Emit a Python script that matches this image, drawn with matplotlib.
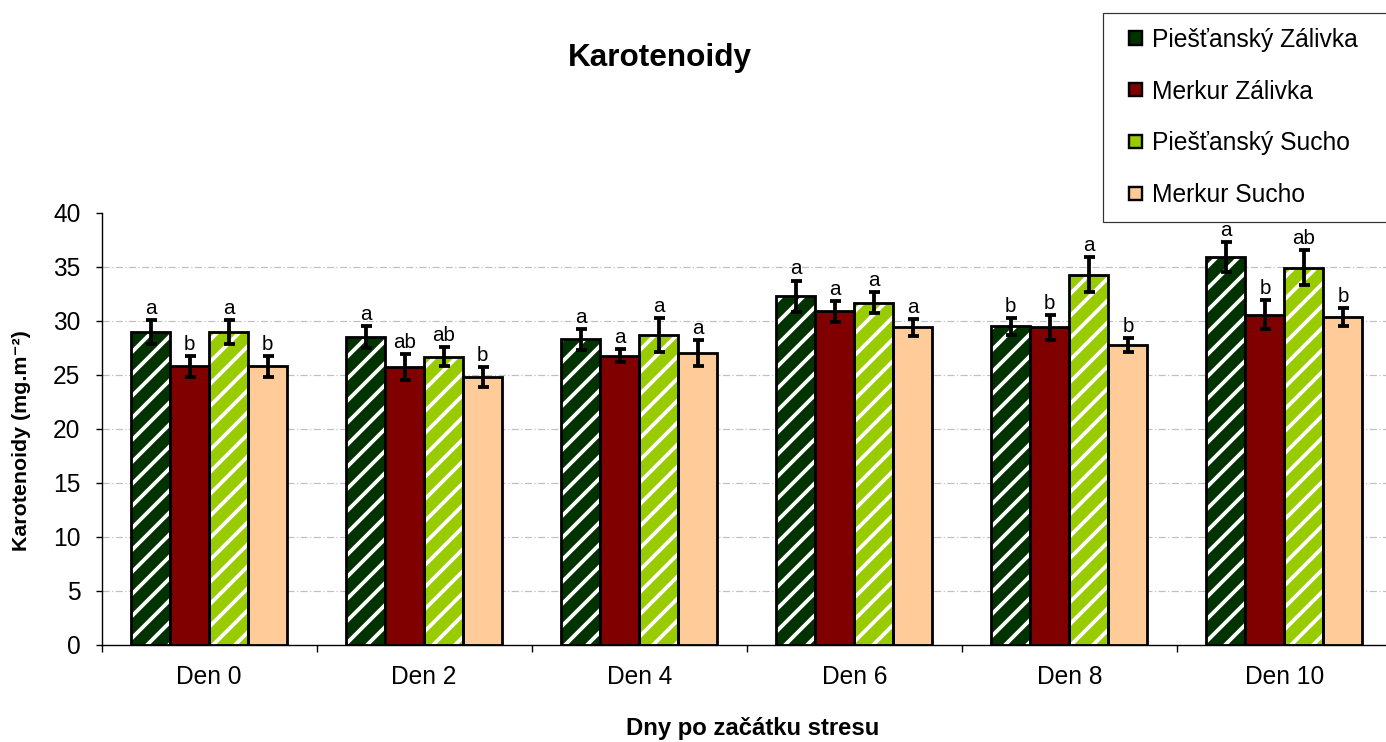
import matplotlib
matplotlib.use("Agg")
import matplotlib.pyplot as plt
import numpy as np
from matplotlib.patches import Patch, Rectangle
from matplotlib.legend_handler import HandlerPatch

# ---------------- data ----------------
days = ["Den 0", "Den 2", "Den 4", "Den 6", "Den 8", "Den 10"]
series_names = ["Piešťanský Zálivka", "Merkur Zálivka", "Piešťanský Sucho", "Merkur Sucho"]

piestansky_zalivka = [29.0, 28.5, 28.3, 32.3, 29.5, 35.9]
merkur_zalivka     = [25.8, 25.7, 26.8, 30.9, 29.4, 30.6]
piestansky_sucho   = [29.0, 26.7, 28.7, 31.7, 34.3, 34.95]
merkur_sucho       = [25.8, 24.8, 27.0, 29.4, 27.8, 30.4]

err_pz = [1.1, 1.0, 1.0, 1.45, 0.8, 1.4]
err_mz = [0.95, 1.2, 0.6, 0.95, 1.2, 1.35]
err_ps = [1.1, 0.9, 1.6, 1.0, 1.65, 1.65]
err_ms = [0.95, 0.9, 1.2, 0.75, 0.65, 0.85]

letters_pz = ["a", "a", "a", "a", "b", "a"]
letters_mz = ["b", "ab", "a", "a", "b", "b"]
letters_ps = ["a", "ab", "a", "a", "a", "ab"]
letters_ms = ["b", "b", "a", "a", "b", "b"]

yticks = [0, 5, 10, 15, 20, 25, 30, 35, 40]

# ---------------- style ----------------
DPI = 66
W, H = 1386, 742
def px(v):  # pixels -> points
    return v * 72.0 / DPI

plt.rcParams['font.family'] = ['Liberation Sans', 'DejaVu Sans']
plt.rcParams['hatch.linewidth'] = px(3.8)

fig = plt.figure(figsize=(W / DPI, H / DPI), dpi=DPI)
ax = fig.add_axes([101.5 / W, 97 / H, (1392 - 101.5) / W, 432 / H])

values = [piestansky_zalivka, merkur_zalivka, piestansky_sucho, merkur_sucho]
errors = [err_pz, err_mz, err_ps, err_ms]
letters = [letters_pz, letters_mz, letters_ps, letters_ms]
faces = ["#003300", "#800000", "#99CC00", "#FFCC99"]
hatches = ["/", None, "/", None]

x = np.arange(len(days))
bw = 0.1814
offsets = (np.arange(4) - 1.5) * bw

for i in range(4):
    xs = x + offsets[i]
    if hatches[i]:
        ax.bar(xs, values[i], bw, color=faces[i], edgecolor="white",
               hatch=hatches[i], linewidth=0, zorder=2)
    else:
        ax.bar(xs, values[i], bw, color=faces[i], linewidth=0, zorder=2)
    ax.bar(xs, values[i], bw, fill=False, edgecolor="black",
           linewidth=px(2.8), zorder=3)
    ax.errorbar(xs, values[i], yerr=errors[i], fmt="none", ecolor="black",
                elinewidth=px(3.8), capsize=px(5.5), capthick=px(3.8), zorder=4)
    for xi, v, e, lab in zip(xs, values[i], errors[i], letters[i]):
        ax.annotate(lab, (xi, v + e), xytext=(0, px(6)), textcoords="offset points",
                    ha="center", va="baseline", fontsize=px(20.5), zorder=5)

# grid (dash-dot, light grey), not at 0 and 40
for t in yticks[1:-1]:
    ax.axhline(t, color="#c0c0c0", lw=px(1.2), ls=(0, (6, 2, 1, 2)), zorder=1)

ax.set_ylim(0, 40)
ax.set_xlim(-0.5, len(days) - 0.5)
ax.set_yticks(yticks)
ax.set_yticklabels([str(t) for t in yticks])
ax.set_xticks(x)
ax.set_xticklabels(days)
ax.set_xticks(np.arange(len(days) + 1) - 0.5, minor=True)

for s in ["top", "right"]:
    ax.spines[s].set_visible(False)
for s in ["left", "bottom"]:
    ax.spines[s].set_linewidth(px(1.4))

ax.tick_params(axis="y", direction="out", length=px(6), width=px(1.4),
               labelsize=px(24.5), pad=px(15))
ax.tick_params(axis="x", which="major", length=0, labelsize=px(24.5), pad=px(20))
ax.tick_params(axis="x", which="minor", direction="out", length=px(7), width=px(1.4))

# texts
fig.text(660 / W, 1 - 58 / H, "Karotenoidy", ha="center", va="center",
         fontsize=px(31.5), fontweight="bold")
fig.text(753 / W, 1 - 728 / H, "Dny po začátku stresu", ha="center", va="center",
         fontsize=px(23.9), fontweight="bold")
fig.text(22 / W, 1 - 441 / H, "Karotenoidy (mg.m⁻²)", ha="center", va="center",
         rotation=90, fontsize=px(21.4), fontweight="bold")

# legend
def square(legend, orig_handle, xdescent, ydescent, width, height, fontsize):
    return Rectangle((width - height - xdescent, -ydescent), height, height)

handles = [Patch(facecolor=f, edgecolor="black", linewidth=px(2.4)) for f in faces]
fs = px(24.6)
leg = fig.legend(handles, series_names, loc="upper left",
                 bbox_to_anchor=(1103 / W, 0.0, 0.3, 1 - 13 / H),
                 mode="expand", borderaxespad=0, fontsize=fs,
                 frameon=True, fancybox=False, edgecolor="black",
                 handlelength=1.0, handleheight=0.45, handletextpad=0.4,
                 labelspacing=1.13, borderpad=0.6,
                 handler_map={Patch: HandlerPatch(patch_func=square)})
leg.get_frame().set_linewidth(px(1.2))

fig.savefig("out.png", dpi=DPI)
